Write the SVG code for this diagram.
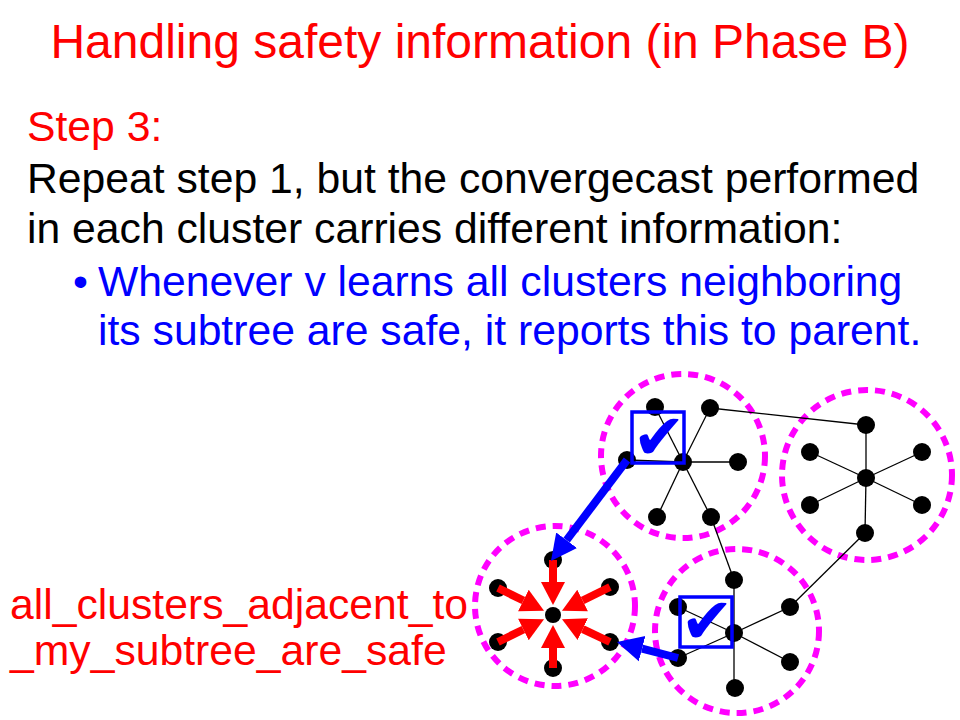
<svg xmlns="http://www.w3.org/2000/svg" width="960" height="720" viewBox="0 0 960 720">
<style>
  text { font-family: "Liberation Sans", Arial, sans-serif; }
  .title { font-size: 48px; fill: #FF0000; }
  .red { font-size: 42.7px; fill: #FF0000; }
  .black { font-size: 42.7px; fill: #000000; }
  .blue { font-size: 42.7px; fill: #0000FF; }
  .cluster { fill: none; stroke: #FF00FF; stroke-width: 6; stroke-dasharray: 10 7; }
  .edge { stroke: #000000; stroke-width: 1.3; fill: none; }
  .node { fill: #000000; }
  .box { fill: none; stroke: #0000FF; stroke-width: 3.5; }
  .check { font-family: "DejaVu Sans", sans-serif; font-size: 64px; fill: #0000FF; }
  .redarrow { stroke: #FF0000; stroke-width: 8; fill: none; marker-end: url(#redHead); }
  .bluearrow { stroke: #0000FF; stroke-width: 8; fill: none; marker-end: url(#blueHead); }
</style>
<defs>
  <marker id="redHead" markerUnits="userSpaceOnUse" viewBox="0 -15 30 30" markerWidth="30" markerHeight="30" refX="0" refY="0" orient="auto">
    <path d="M0,-12 L23,0 L0,12 z" fill="#FF0000"/>
  </marker>
  <marker id="blueHead" markerUnits="userSpaceOnUse" viewBox="0 -15 30 30" markerWidth="30" markerHeight="30" refX="0" refY="0" orient="auto">
    <path d="M0,-13 L26,0 L0,13 z" fill="#0000FF"/>
  </marker>
</defs>
<rect width="960" height="720" fill="#FFFFFF"/>

<g id="texts">
  <text class="title" x="480" y="58" text-anchor="middle">Handling safety information (in Phase B)</text>
  <text class="red" x="27" y="141">Step 3:</text>
  <text class="black" x="27" y="193">Repeat step 1, but the convergecast performed</text>
  <text class="black" x="27" y="243">in each cluster carries different information:</text>
  <text class="blue" x="73" y="296">•</text>
  <text class="blue" x="98" y="296">Whenever v learns all clusters neighboring</text>
  <text class="blue" x="98" y="345">its subtree are safe, it reports this to parent.</text>
  <text class="red" x="10" y="619">all_clusters_adjacent_to</text>
  <text class="red" x="10" y="665">_my_subtree_are_safe</text>
</g>

<g id="clusters">
  <circle class="cluster" cx="683" cy="456" r="82"/>
  <circle class="cluster" cx="867" cy="475" r="85"/>
  <circle class="cluster" cx="555" cy="606" r="80"/>
  <circle class="cluster" cx="737" cy="631" r="82"/>
</g>

<g id="connectors">
  <line class="edge" x1="683" y1="462" x2="655" y2="407"/>
  <line class="edge" x1="683" y1="462" x2="710" y2="408"/>
  <line class="edge" x1="683" y1="462" x2="627" y2="460"/>
  <line class="edge" x1="683" y1="462" x2="738" y2="462"/>
  <line class="edge" x1="683" y1="462" x2="657" y2="517"/>
  <line class="edge" x1="683" y1="462" x2="711" y2="517"/>
  <line class="edge" x1="866" y1="478" x2="866" y2="425"/>
  <line class="edge" x1="866" y1="478" x2="810" y2="452"/>
  <line class="edge" x1="866" y1="478" x2="922" y2="452"/>
  <line class="edge" x1="866" y1="478" x2="810" y2="505"/>
  <line class="edge" x1="866" y1="478" x2="922" y2="505"/>
  <line class="edge" x1="866" y1="478" x2="865" y2="533"/>
  <line class="edge" x1="734" y1="633" x2="734" y2="580"/>
  <line class="edge" x1="734" y1="633" x2="678" y2="607"/>
  <line class="edge" x1="734" y1="633" x2="790" y2="607"/>
  <line class="edge" x1="734" y1="633" x2="678" y2="658"/>
  <line class="edge" x1="734" y1="633" x2="790" y2="662"/>
  <line class="edge" x1="734" y1="633" x2="734" y2="688"/>
  <line class="edge" x1="710" y1="408" x2="866" y2="425"/>
  <line class="edge" x1="711" y1="517" x2="734" y2="580"/>
  <line class="edge" x1="790" y1="607" x2="865" y2="533"/>
</g>

<g id="cluster1-nodes">
  <circle class="node" cx="683" cy="462" r="9"/>
  <circle class="node" cx="655" cy="407" r="9"/>
  <circle class="node" cx="710" cy="408" r="9"/>
  <circle class="node" cx="627" cy="460" r="9"/>
  <circle class="node" cx="738" cy="462" r="9"/>
  <circle class="node" cx="657" cy="517" r="9"/>
  <circle class="node" cx="711" cy="517" r="9"/>
</g>
<g id="cluster2-nodes">
  <circle class="node" cx="866" cy="478" r="9"/>
  <circle class="node" cx="866" cy="425" r="9"/>
  <circle class="node" cx="810" cy="452" r="9"/>
  <circle class="node" cx="922" cy="452" r="9"/>
  <circle class="node" cx="810" cy="505" r="9"/>
  <circle class="node" cx="922" cy="505" r="9"/>
  <circle class="node" cx="865" cy="533" r="9"/>
</g>
<g id="cluster3-nodes">
  <circle class="node" cx="553" cy="615" r="8"/>
  <circle class="node" cx="553" cy="560" r="9"/>
  <circle class="node" cx="498" cy="588" r="9"/>
  <circle class="node" cx="610" cy="587" r="9"/>
  <circle class="node" cx="498" cy="642" r="9"/>
  <circle class="node" cx="610" cy="642" r="9"/>
  <circle class="node" cx="553" cy="668" r="9"/>
</g>
<g id="cluster4-nodes">
  <circle class="node" cx="734" cy="633" r="9"/>
  <circle class="node" cx="734" cy="580" r="9"/>
  <circle class="node" cx="678" cy="607" r="9"/>
  <circle class="node" cx="790" cy="607" r="9"/>
  <circle class="node" cx="678" cy="658" r="9"/>
  <circle class="node" cx="790" cy="662" r="9"/>
  <circle class="node" cx="735" cy="688" r="9"/>
</g>

<g id="checkbox1">
  <rect class="box" x="632" y="412" width="52" height="51"/>
  <text class="check" x="659" y="459" text-anchor="middle">✔</text>
</g>
<g id="checkbox2">
  <rect class="box" x="680" y="597" width="52" height="50"/>
  <text class="check" x="707" y="643" text-anchor="middle">✔</text>
</g>

<g id="arrows">
  <line class="redarrow" x1="553" y1="560" x2="553" y2="582"/>
  <line class="redarrow" x1="498" y1="588" x2="523.4" y2="600.5"/>
  <line class="redarrow" x1="610" y1="587" x2="582.6" y2="600.5"/>
  <line class="redarrow" x1="498" y1="642" x2="523.4" y2="629.5"/>
  <line class="redarrow" x1="610" y1="642" x2="582.8" y2="629.1"/>
  <line class="redarrow" x1="553" y1="668" x2="553" y2="648"/>
  <line class="bluearrow" x1="627" y1="460" x2="566.6" y2="540.2"/>
  <line class="bluearrow" x1="678" y1="658" x2="642.1" y2="648.6"/>
</g>
</svg>
